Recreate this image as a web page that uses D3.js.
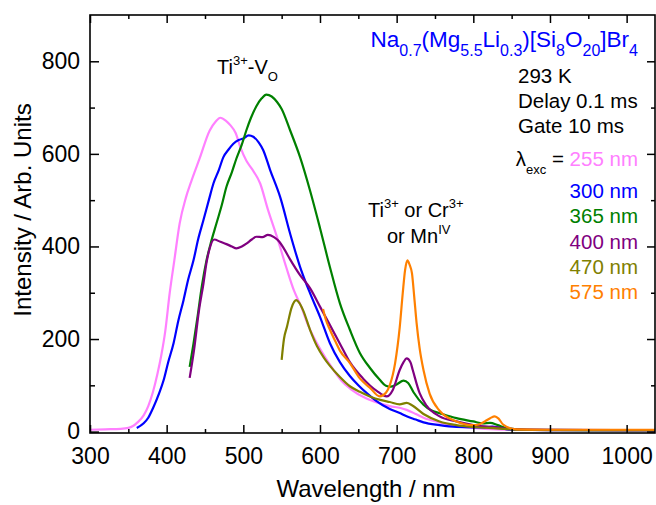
<!DOCTYPE html>
<html>
<head>
<meta charset="utf-8">
<script src="https://cdn.jsdelivr.net/npm/d3@7/dist/d3.min.js"></script>
<style>
  html, body { margin: 0; padding: 0; background: #fff; }
  svg { display: block; font-family: "Liberation Sans", Arial, sans-serif; }
</style>
</head>
<body>
<svg id="chart" width="656" height="505"></svg>
<script>
// ---- data (wavelength nm, intensity arb. units) ----
const excLabels = ["255 nm", "300 nm", "365 nm", "400 nm", "470 nm", "575 nm"];
const excColors = ["#ff80ff", "#0000ff", "#008000", "#800080", "#808000", "#ff8000"];

const exc255 = [[300,4],[320,5],[340,6],[350,8],[356,12],[362,20],[370,35],[376,55],[382,85],[388,125],[393,165],[398,215],[404,300],[410,370],[417,450],[425,505],[432,540],[443,590],[456,650],[464,670],[470,678],[477,672],[483,662],[490,645],[496,615],[504,585],[511,568],[522,536],[532,480],[544,420],[556,355],[566,305],[575,272],[585,228],[596,191],[607,160],[617,135],[628,110],[640,92],[660,72],[680,60],[691,55],[705,51],[713,47],[725,38],[735,30],[756,20],[778,12],[800,8],[830,5],[870,4],[950,3],[1040,3]];
const exc300 = [[361,8],[370,18],[376,30],[382,50],[390,82],[396,111],[402,150],[409,191],[415,238],[422,284],[428,328],[435,370],[441,415],[448,457],[455,500],[461,536],[468,565],[474,593],[481,610],[487,622],[494,630],[500,633],[507,640],[513,637],[520,625],[526,608],[535,565],[548,507],[561,428],[574,356],[587,299],[600,248],[613,191],[626,150],[639,120],[650,100],[661,83],[672,68],[682,57],[691,49],[704,40],[713,33],[725,26],[735,20],[756,14],[778,10],[800,9],[815,9],[825,11],[835,8],[850,4],[900,3],[1040,3]];
const exc365 = [[430,140],[435,190],[440,245],[446,315],[452,370],[458,410],[465,450],[472,490],[478,529],[485,560],[491,590],[498,620],[504,651],[510,678],[517,703],[524,720],[530,728],[537,724],[544,712],[550,697],[561,651],[574,593],[587,521],[600,440],[613,355],[626,277],[639,220],[652,170],[665,138],[678,112],[686,99],[692,97],[700,102],[709,110],[715,105],[722,85],[735,58],[745,46],[756,40],[778,29],[800,22],[812,18],[822,19],[832,14],[845,7],[870,4],[950,3],[1040,3]];
const exc400 = [[430,116],[436,180],[442,260],[448,320],[452,365],[456,395],[462,415],[470,410],[478,405],[485,400],[491,396],[498,400],[504,406],[511,415],[517,421],[525,420],[532,425],[540,420],[547,410],[552,398],[561,372],[574,338],[587,310],[600,270],[613,230],[626,190],[639,150],[656,115],[674,88],[687,76],[695,90],[704,133],[709,150],[713,158],[718,150],[721,133],[730,83],[739,56],[756,33],[778,22],[800,14],[830,9],[860,5],[900,4],[1040,3]];
const exc470 = [[550,155],[553,200],[557,227],[563,268],[569,284],[573,278],[578,262],[587,220],[596,185],[605,160],[613,142],[626,118],[639,98],[652,86],[665,76],[680,68],[691,64],[704,59],[713,62],[720,57],[735,38],[756,22],[778,14],[800,10],[830,7],[860,4],[900,3],[1040,3]];
const exc575 = [[604,265],[608,240],[613,220],[620,195],[626,175],[639,148],[652,115],[665,95],[678,76],[686,84],[691,100],[698,148],[704,225],[708,300],[711,349],[714,370],[717,360],[720,342],[723,290],[726,235],[730,180],[735,133],[743,82],[756,45],[778,22],[800,14],[808,16],[815,22],[822,29],[828,33],[833,28],[839,15],[856,5],[900,4],[1040,4]];
const seriesList = [exc255, exc300, exc365, exc400, exc470, exc575];

const xMajorTicks = [300, 400, 500, 600, 700, 800, 900, 1000];
const xMinorTicks = [350, 450, 550, 650, 750, 850, 950];
const yMajorTicks = [0, 200, 400, 600, 800];
const yMinorTicks = [100, 300, 500, 700];

// ---- layout ----
const svg = d3.select("#chart");
const L = 90, R = 655, T = 15, B = 433;
const x = d3.scaleLinear().domain([300, 1037]).range([L, R]);
const y = d3.scaleLinear().domain([-3, 900]).range([B, T]);
const FONT = '"Liberation Sans", Arial, sans-serif';

svg.append("defs").append("clipPath").attr("id", "clip")
  .append("rect").attr("x", L).attr("y", T).attr("width", R - L).attr("height", B - T);

// ---- curves ----
const line = d3.line().x(d => x(d[0])).y(d => y(d[1])).curve(d3.curveMonotoneX);
const g = svg.append("g").attr("clip-path", "url(#clip)");
seriesList.forEach((s, i) => {
  g.append("path").datum(s).attr("d", line)
    .attr("fill", "none").attr("stroke", excColors[i])
    .attr("stroke-width", 2.2).attr("stroke-linejoin", "round");
});

// ---- axes ----
function styleAxis(sel) {
  sel.select(".domain").remove();
  sel.selectAll(".tick line").attr("stroke", "#000").attr("stroke-width", 1.5);
  sel.selectAll("text").attr("font-family", FONT).attr("fill", "#000");
}
const bottomMaj = svg.append("g").attr("transform", `translate(0,${B})`)
  .call(d3.axisBottom(x).tickValues(xMajorTicks).tickSize(-8).tickPadding(15).tickFormat(d3.format("d")));
bottomMaj.selectAll("text").attr("font-size", 23);
styleAxis(bottomMaj);
const bottomMin = svg.append("g").attr("transform", `translate(0,${B})`)
  .call(d3.axisBottom(x).tickValues(xMinorTicks).tickSize(-4).tickFormat(""));
styleAxis(bottomMin);
const topMaj = svg.append("g").attr("transform", `translate(0,${T})`)
  .call(d3.axisTop(x).tickValues(xMajorTicks).tickSize(-8).tickFormat(""));
styleAxis(topMaj);
const topMin = svg.append("g").attr("transform", `translate(0,${T})`)
  .call(d3.axisTop(x).tickValues(xMinorTicks).tickSize(-4).tickFormat(""));
styleAxis(topMin);

const leftMaj = svg.append("g").attr("transform", `translate(${L},0)`)
  .call(d3.axisLeft(y).tickValues(yMajorTicks).tickSize(-9).tickPadding(10).tickFormat(d3.format("d")));
leftMaj.selectAll("text").attr("font-size", 23);
styleAxis(leftMaj);
const leftMin = svg.append("g").attr("transform", `translate(${L},0)`)
  .call(d3.axisLeft(y).tickValues(yMinorTicks).tickSize(-5).tickFormat(""));
styleAxis(leftMin);
const rightMaj = svg.append("g").attr("transform", `translate(${R},0)`)
  .call(d3.axisRight(y).tickValues(yMajorTicks).tickSize(-8).tickFormat(""));
styleAxis(rightMaj);
const rightMin = svg.append("g").attr("transform", `translate(${R},0)`)
  .call(d3.axisRight(y).tickValues(yMinorTicks).tickSize(-4).tickFormat(""));
styleAxis(rightMin);

svg.append("rect").attr("x", L).attr("y", T).attr("width", R - L).attr("height", B - T)
  .attr("fill", "none").attr("stroke", "#000").attr("stroke-width", 1.6);

// ---- axis titles ----
svg.append("text").attr("x", 366).attr("y", 497).attr("text-anchor", "middle")
  .attr("font-family", FONT).attr("font-size", 24).text("Wavelength / nm");
svg.append("text").attr("transform", "translate(31,210) rotate(-90)").attr("text-anchor", "middle")
  .attr("font-family", FONT).attr("font-size", 24).text("Intensity / Arb. Units");

// ---- helper for rich text ----
function rich(xp, yp, parts, anchor, size) {
  const t = svg.append("text").attr("x", xp).attr("y", yp).attr("text-anchor", anchor)
    .attr("font-family", FONT).attr("font-size", size);
  let cur = 0;
  parts.forEach(p => {
    const off = p.off || 0;
    const ts = t.append("tspan").attr("dy", off - cur).text(p.t);
    cur = off;
    if (p.size) ts.attr("font-size", p.size);
    if (p.fill) ts.attr("fill", p.fill);
  });
  return t;
}

// title
rich(638, 47, [
  {t: "Na"}, {t: "0.7", off: 9, size: 16}, {t: "(Mg"}, {t: "5.5", off: 9, size: 16},
  {t: "Li"}, {t: "0.3", off: 9, size: 16}, {t: ")[Si"}, {t: "8", off: 9, size: 16},
  {t: "O"}, {t: "20", off: 9, size: 16}, {t: "]Br"}, {t: "4", off: 9, size: 16}
], "end", 22.5).attr("fill", "#0000ff");

// conditions
svg.append("text").attr("x", 518).attr("y", 83).attr("font-family", FONT).attr("font-size", 20.5).text("293 K");
svg.append("text").attr("x", 518).attr("y", 108).attr("font-family", FONT).attr("font-size", 20.5).text("Delay 0.1 ms");
svg.append("text").attr("x", 518).attr("y", 133).attr("font-family", FONT).attr("font-size", 20.5).text("Gate 10 ms");

// legend
rich(638, 166, [
  {t: "λ"}, {t: "exc", off: 8, size: 13}, {t: " = "}, {t: excLabels[0], fill: excColors[0]}
], "end", 20.5);
const legendY = [198, 223, 249, 274, 299];
excLabels.slice(1).forEach((lab, i) => {
  svg.append("text").attr("x", 638).attr("y", legendY[i]).attr("text-anchor", "end")
    .attr("font-family", FONT).attr("font-size", 20.5).attr("fill", excColors[i + 1]).text(lab);
});

// annotations
rich(217, 74, [
  {t: "Ti"}, {t: "3+", off: -9, size: 13}, {t: "-V"}, {t: "O", off: 7, size: 13}
], "start", 20);
rich(368, 217, [
  {t: "Ti"}, {t: "3+", off: -9, size: 13}, {t: " or Cr"}, {t: "3+", off: -9, size: 13}
], "start", 20);
rich(387, 243, [
  {t: "or Mn"}, {t: "IV", off: -9, size: 13}
], "start", 20);
</script>
</body>
</html>
